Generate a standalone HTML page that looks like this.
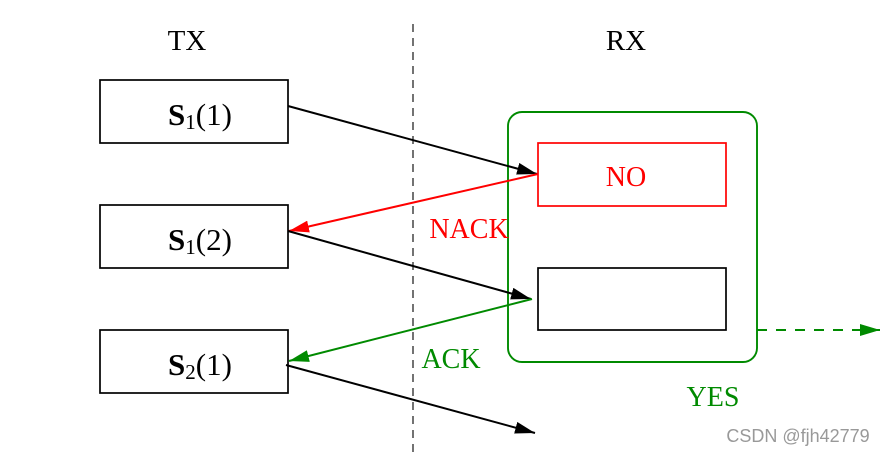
<!DOCTYPE html>
<html><head><meta charset="utf-8"><style>
html,body{margin:0;padding:0;background:#fff;}
svg{display:block;}
text{font-family:"Liberation Serif",serif;}
</style></head><body>
<svg width="889" height="454" viewBox="0 0 889 454" xmlns="http://www.w3.org/2000/svg">
<defs>
<marker id="ab" viewBox="0 0 10 6" refX="10" refY="3" markerWidth="20" markerHeight="12" markerUnits="userSpaceOnUse" orient="auto"><path d="M0,0 L10,3 L0,6 z" fill="#000"/></marker>
<marker id="ar" viewBox="0 0 10 6" refX="10" refY="3" markerWidth="20" markerHeight="12" markerUnits="userSpaceOnUse" orient="auto"><path d="M0,0 L10,3 L0,6 z" fill="#f00"/></marker>
<marker id="ag" viewBox="0 0 10 6" refX="10" refY="3" markerWidth="20" markerHeight="12" markerUnits="userSpaceOnUse" orient="auto"><path d="M0,0 L10,3 L0,6 z" fill="#008a00"/></marker>
</defs>
<text x="187" y="50" font-size="29" text-anchor="middle">TX</text>
<text x="626" y="50" font-size="29" text-anchor="middle">RX</text>
<line x1="413" y1="24" x2="413" y2="452" stroke="#000" stroke-width="1.1" stroke-dasharray="8,6"/>
<g fill="none" stroke="#000" stroke-width="1.7">
<rect x="100" y="80" width="188" height="63"/>
<rect x="100" y="205" width="188" height="63"/>
<rect x="100" y="330" width="188" height="63"/>
<rect x="538" y="268" width="188" height="62"/>
</g>
<rect x="508" y="112" width="249" height="250" rx="14" fill="none" stroke="#008a00" stroke-width="1.9"/>
<rect x="538" y="143" width="188" height="63" fill="none" stroke="#f00" stroke-width="1.7"/>
<g font-size="31" text-anchor="middle">
<text x="200" y="125"><tspan font-weight="bold">S</tspan><tspan font-size="21" dy="4">1</tspan><tspan dy="-4">(1)</tspan></text>
<text x="200" y="250"><tspan font-weight="bold">S</tspan><tspan font-size="21" dy="4">1</tspan><tspan dy="-4">(2)</tspan></text>
<text x="200" y="375"><tspan font-weight="bold">S</tspan><tspan font-size="21" dy="4">2</tspan><tspan dy="-4">(1)</tspan></text>
</g>
<text x="626" y="186" font-size="28" fill="#f00" text-anchor="middle">NO</text>
<g stroke-width="2" fill="none">
<line x1="288" y1="106" x2="537" y2="174" stroke="#000" marker-end="url(#ab)"/>
<line x1="538" y1="174" x2="289" y2="231" stroke="#f00" marker-end="url(#ar)"/>
<line x1="288" y1="231" x2="531" y2="299" stroke="#000" marker-end="url(#ab)"/>
<line x1="532" y1="299" x2="289" y2="361" stroke="#008a00" marker-end="url(#ag)"/>
<line x1="286" y1="365" x2="535" y2="433" stroke="#000" marker-end="url(#ab)"/>
<line x1="757" y1="330" x2="880" y2="330" stroke="#008a00" stroke-dasharray="10,9" marker-end="url(#ag)"/>
</g>
<text x="469" y="238" font-size="28" fill="#f00" text-anchor="middle">NACK</text>
<text x="451" y="368" font-size="28" fill="#008a00" text-anchor="middle">ACK</text>
<text x="713" y="406" font-size="28" fill="#008a00" text-anchor="middle">YES</text>
<text x="798" y="442" font-size="18" fill="#999" text-anchor="middle" style="font-family:'Liberation Sans',sans-serif">CSDN @fjh42779</text>
</svg>
</body></html>
